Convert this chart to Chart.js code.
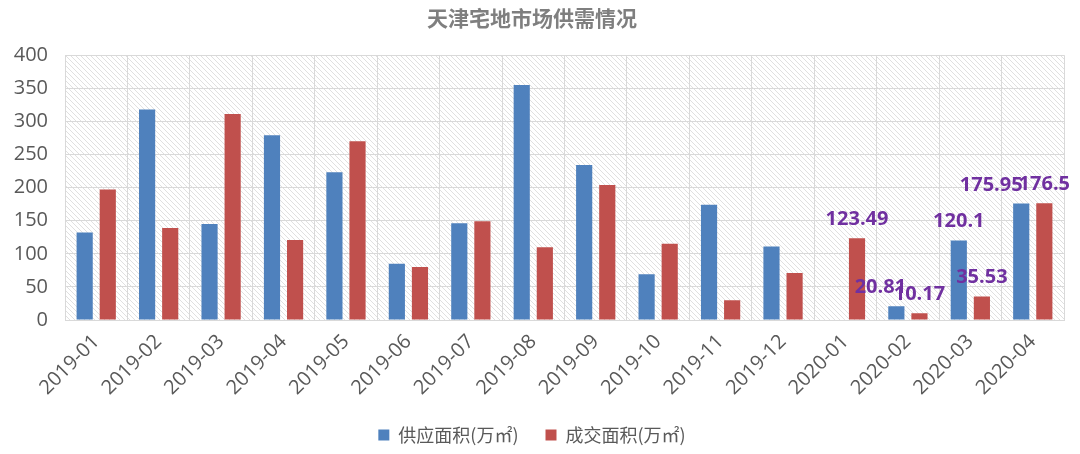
<!DOCTYPE html>
<html>
<head>
<meta charset="utf-8">
<script src="https://cdn.jsdelivr.net/npm/chart.js@4/dist/chart.umd.min.js"></script>
<style>
html,body{margin:0;padding:0;background:#fff;}
#wrap{width:1080px;height:454px;position:relative;}
</style>
</head>
<body>
<div id="wrap"><canvas id="c" width="1080" height="454"></canvas></div>
<script>
const categories = ['2019-01','2019-02','2019-03','2019-04','2019-05','2019-06','2019-07','2019-08','2019-09','2019-10','2019-11','2019-12','2020-01','2020-02','2020-03','2020-04'];
const supply = [132, 318, 145, 279, 223, 85, 146, 355, 234, 69, 174, 111, null, 20.81, 120.1, 175.95];
const deal   = [197, 139, 311, 121, 270, 80, 149, 110, 204, 115, 30, 71, 123.49, 10.17, 35.53, 176.5];
const supplyLabels = [null,null,null,null,null,null,null,null,null,null,null,null,null,'20.81','120.1','175.95'];
const dealLabels   = [null,null,null,null,null,null,null,null,null,null,null,null,'123.49','10.17','35.53','176.5'];
const yTicks = [0,50,100,150,200,250,300,350,400];

const FONT = "'Noto Sans CJK SC','Open Sans',sans-serif";
const NUMFONT = "'Open Sans','Noto Sans CJK SC',sans-serif";
const GRAY = '#595959';

function makePattern(ctx){
  const p = document.createElement('canvas');
  p.width = 5; p.height = 5;
  const g = p.getContext('2d');
  g.fillStyle = '#ffffff';
  g.fillRect(0,0,5,5);
  g.strokeStyle = '#e0e0e0';
  g.lineWidth = 1;
  g.beginPath();
  g.moveTo(-1,-1); g.lineTo(6,6);
  g.moveTo(-1,4); g.lineTo(1,6);
  g.moveTo(4,-1); g.lineTo(6,1);
  g.stroke();
  return ctx.createPattern(p,'repeat');
}

const bgPlugin = {
  id:'bgHatch',
  beforeDraw(chart){
    const {ctx, chartArea:a} = chart;
    ctx.save();
    ctx.fillStyle = makePattern(ctx);
    ctx.fillRect(a.left, a.top, a.right-a.left, a.bottom-a.top);
    ctx.restore();
  }
};

const labelPlugin = {
  id:'valLabels',
  afterDatasetsDraw(chart, args, opts){
    const {ctx} = chart;
    ctx.save();
    ctx.font = "bold 20px " + NUMFONT;
    ctx.fillStyle = '#7030A0';
    ctx.textAlign = 'center';
    ctx.textBaseline = 'alphabetic';
    const sets = [supplyLabels, dealLabels];
    sets.forEach((labs, di) => {
      const meta = chart.getDatasetMeta(di);
      labs.forEach((t, i) => {
        if (t == null) return;
        const el = meta.data[i];
        const shift = (opts.shift[di] && opts.shift[di][i]) || 0;
        ctx.fillText(t, el.x + shift, el.y - 13);
      });
    });
    ctx.restore();
  }
};

new Chart(document.getElementById('c'), {
  type:'bar',
  data:{
    labels: categories,
    datasets:[
      {label:'供应面积(万㎡)', data: supply, backgroundColor:'#4F81BD', categoryPercentage:0.74, barPercentage:0.70},
      {label:'成交面积(万㎡)', data: deal, backgroundColor:'#C0504D', categoryPercentage:0.74, barPercentage:0.70}
    ]
  },
  plugins:[bgPlugin, labelPlugin],
  options:{
    responsive:false,
    animation:false,
    layout:{padding:{left:0,right:16,top:0,bottom:0}},
    plugins:{
      title:{display:true, text:'天津宅地市场供需情况', color:'#7f7f7f', font:{family:FONT, size:21, weight:'bold'}, padding:{top:5,bottom:25}},
      legend:{position:'bottom', labels:{color:GRAY, font:{family:FONT, size:18}, boxWidth:11, boxHeight:11, padding:27}},
      tooltip:{enabled:false},
      valLabels:{shift:{0:{13:-16,15:-30}}}
    },
    scales:{
      x:{
        grid:{color:'#d9d9d9', offset:true, drawTicks:false},
        border:{color:'#d9d9d9'},
        ticks:{color:GRAY, font:{family:NUMFONT, size:20}, maxRotation:45, minRotation:45, padding:10},
        afterFit(axis){ axis.height = 79; }
      },
      y:{
        min:0, max:400,
        afterBuildTicks(axis){ axis.ticks = yTicks.map(v=>({value:v})); },
        afterFit(axis){ axis.width = 65; },
        grid:{color:'#d9d9d9', drawTicks:false},
        border:{color:'#d9d9d9'},
        ticks:{color:GRAY, font:{family:NUMFONT, size:20}, padding:17}
      }
    }
  }
});
</script>
</body>
</html>
